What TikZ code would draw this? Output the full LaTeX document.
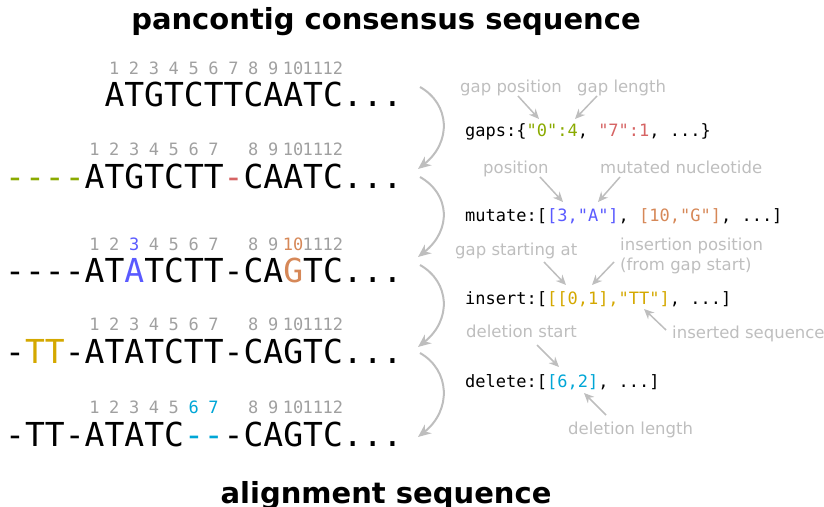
\documentclass[tikz,border=0pt]{standalone}
\usepackage{fontspec}
\setmainfont{DejaVu Sans}
\setmonofont{DejaVu Sans Mono}
\usetikzlibrary{arrows.meta}
\definecolor{cgreen}{RGB}{138,170,0}
\definecolor{cred}{RGB}{214,100,100}
\definecolor{cblue}{RGB}{90,90,255}
\definecolor{corange}{RGB}{214,136,88}
\definecolor{cgold}{RGB}{212,168,0}
\definecolor{ccyan}{RGB}{0,166,214}
\definecolor{numgray}{RGB}{160,160,160}
\definecolor{lblgray}{RGB}{190,190,190}
\begin{document}
\begin{tikzpicture}[x=1pt,y=1pt,
 seq/.style={anchor=base west, inner sep=0pt, font=\fontsize{33}{33}\ttfamily},
 num/.style={anchor=base, inner sep=0pt, font=\fontsize{17}{17}\ttfamily, text=numgray},
 code/.style={anchor=base west, inner sep=0pt, font=\fontsize{17}{17}\ttfamily},
 lbl/.style={anchor=base west, inner sep=0pt, font=\fontsize{16.5}{16.5}\selectfont, text=lblgray},
 ttl/.style={anchor=base, inner sep=0pt, font=\fontsize{29}{29}\selectfont\bfseries},
 ann/.style={draw=lblgray, line width=1.5pt, -{Stealth[length=10pt,width=9pt]}},
 flow/.style={draw=lblgray, line width=2pt, -{Stealth[length=13pt,width=11pt]}}]
\useasboundingbox (0,0) rectangle (824,-506);

% titles
\node[ttl] (t1) at (386,-29) {pancontig consensus sequence};
\node[ttl] (t2) at (386,-503) {alignment sequence};

% sequences
\node[seq] (s1) at (104.3,-106) {ATGTCTTCAATC...};
\node[seq] (s2) at (5,-188) {\textcolor{cgreen}{----}ATGTCTT\textcolor{cred}{-}CAATC...};
\node[seq] (s3) at (5,-282) {----AT\textcolor{cblue}{A}TCTT-CA\textcolor{corange}{G}TC...};
\node[seq] (s4) at (5,-363) {-\textcolor{cgold}{TT}-ATATCTT-CAGTC...};
\node[seq] (s5) at (5,-446) {-TT-ATATC\textcolor{ccyan}{--}-CAGTC...};

% position numbers
\foreach \i in {1,...,12} {
  \node[num] (n1-\i) at ({104.3+(\i-0.5)*19.866},-74) {\i};
}
\foreach \r/\y in {2/-155,3/-250,4/-330,5/-413} {
  \foreach \i in {1,...,12} {
    \pgfmathtruncatemacro\idx{\i<8 ? \i+3 : \i+4}
    \def\col{numgray}
    \ifnum\r=3 \ifnum\i=3 \def\col{cblue}\fi \ifnum\i=10 \def\col{corange}\fi\fi
    \ifnum\r=5 \ifnum\i>5 \ifnum\i<8 \def\col{ccyan}\fi\fi\fi
    \node[num,text=\col] (n\r-\i) at ({5+(\idx+0.5)*19.866},\y) {\i};
  }
}

% code lines
\node[code] (c1) at (465,-136) {gaps:\{\textcolor{cgreen}{"0":4}, \textcolor{cred}{"7":1}, ...\}};
\node[code] (c2) at (465,-221) {mutate:[\textcolor{cblue}{[3,"A"]}, \textcolor{corange}{[10,"G"]}, ...]};
\node[code] (c3) at (465,-304) {insert:[\textcolor{cgold}{[[0,1],"TT"]}, ...]};
\node[code] (c4) at (465,-387) {delete:[\textcolor{ccyan}{[6,2]}, ...]};

% labels
\node[lbl] (l1) at (460,-92) {gap position};
\node[lbl] (l2) at (577,-92) {gap length};
\node[lbl] (l3) at (483,-173) {position};
\node[lbl] (l4) at (600,-173) {mutated nucleotide};
\node[lbl] (l5) at (455,-255) {gap starting at};
\node[lbl] (l6) at (620,-250) {insertion position};
\node[lbl] (l7) at (620,-270) {(from gap start)};
\node[lbl] (l8) at (672,-338) {inserted sequence};
\node[lbl] (l9) at (466,-337) {deletion start};
\node[lbl] (l10) at (568,-434) {deletion length};

% annotation arrow end points
\coordinate (a1s) at (518,-96);  \coordinate (a1e) at (539,-119);
\coordinate (a2s) at (597,-96);  \coordinate (a2e) at (575,-119);
\coordinate (a3s) at (540,-177); \coordinate (a3e) at (563,-202);
\coordinate (a4s) at (620,-177); \coordinate (a4e) at (598,-202);
\coordinate (a5s) at (544,-262); \coordinate (a5e) at (566,-285);
\coordinate (a6s) at (614,-262); \coordinate (a6e) at (592,-285);
\coordinate (a7s) at (666,-330); \coordinate (a7e) at (644,-309);
\coordinate (a8s) at (537,-345); \coordinate (a8e) at (559,-367);
\coordinate (a9s) at (606,-415); \coordinate (a9e) at (584,-393);
\foreach \i in {1,...,9} { \draw[ann] (a\i s) -- (a\i e); }

% flow arrows between rows
\coordinate (f1s) at (420,-87);  \coordinate (f1e) at (418,-169);
\coordinate (f2s) at (420,-177); \coordinate (f2e) at (418,-257);
\coordinate (f3s) at (420,-265); \coordinate (f3e) at (418,-347);
\coordinate (f4s) at (420,-353); \coordinate (f4e) at (418,-437);
\draw[flow] (f1s) .. controls (450,-104) and (452,-142) .. (f1e);
\draw[flow] (f2s) .. controls (450,-194) and (452,-230) .. (f2e);
\draw[flow] (f3s) .. controls (450,-282) and (452,-320) .. (f3e);
\draw[flow] (f4s) .. controls (450,-370) and (452,-410) .. (f4e);
\end{tikzpicture}
\end{document}
